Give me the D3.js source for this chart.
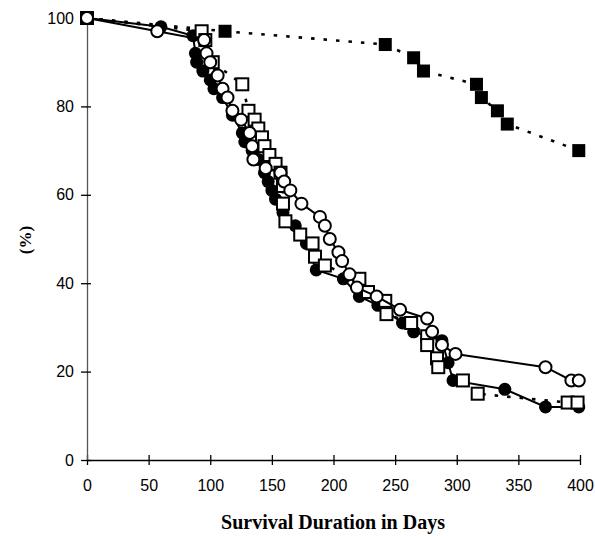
<!DOCTYPE html>
<html>
<head>
<meta charset="utf-8">
<script src="https://cdn.jsdelivr.net/npm/d3@7"></script>
<style>
  body { margin: 0; background: #fff; }
  .axisTitle { font-family: "Times New Roman", "Liberation Serif", serif; font-weight: bold; fill: #000; }
</style>
</head>
<body>
<svg id="chart" width="595" height="536"></svg>
<script>
const xTicks = [0, 50, 100, 150, 200, 250, 300, 350, 400]
const yTicks = [0, 20, 40, 60, 80, 100]

// [day, percent]
const filledSquares = [[0,100],[112,97],[242,94],[265,91],[273,88],[316,85],[320,82],[333,79],[341,76],[399,70]]

const filledCircles = [[0,100],[60,98],[86,96],[88,92],[89,90],[94,88],[100,86],[103,84],[110,82],[118,78],[126,74],[128,72],[134,70],[139,68],[144,65],[147,63],[150,61],[153,59],[159,56],[169,53],[178,49],[186,43],[208,41],[221,37],[236,35],[256,31],[265,29],[288,27],[293,22],[297,18],[339,16],[372,12],[399,12]]

const openSquares = [[0,100],[93,97],[96,95],[102,90],[126,85],[131,79],[136,77],[139,75],[142,73],[144,71],[148,69],[153,67],[157,65],[159,62],[159,58],[161,54],[173,51],[183,49],[185,46],[193,44],[221,41],[228,38],[242,36],[243,33],[263,31],[276,28],[276,26],[284,23],[285,21],[305,18],[317,15],[390,13],[398,13]]

const openCircles = [[0,100],[57,97],[95,95],[97,92],[100,90],[106,87],[110,84],[114,82],[118,79],[125,77],[132,74],[134,71],[135,68],[145,66],[157,65],[160,63],[165,61],[174,58],[189,55],[193,53],[197,50],[204,47],[207,45],[213,42],[219,39],[235,37],[254,34],[276,32],[280,29],[288,26],[299,24],[372,21],[393,18],[399,18]]

const svg = d3.select("#chart")

const xScale = d3.scaleLinear().domain([0, 400]).range([87, 580])
const yScale = d3.scaleLinear().domain([0, 100]).range([460, 18])

const styleTickText = sel => sel
  .attr("font-family", "Arial, 'Liberation Sans', sans-serif")
  .attr("font-size", 16)
  .attr("fill", "#000")

const xAxis = svg.append("g")
  .attr("transform", `translate(0, ${yScale(0)})`)
  .call(d3.axisBottom(xScale).tickValues(xTicks).tickSizeInner(5).tickSizeOuter(0).tickPadding(15))
xAxis.select(".domain").attr("stroke", "#000").attr("stroke-width", 1.3)
xAxis.selectAll(".tick line").attr("y1", -5).attr("stroke-width", 1.3)
xAxis.selectAll(".tick text").call(styleTickText)

const yAxis = svg.append("g")
  .attr("transform", `translate(${xScale(0)}, 0)`)
  .call(d3.axisLeft(yScale).tickValues(yTicks).tickSizeInner(5).tickSizeOuter(0).tickPadding(8))
yAxis.select(".domain").attr("stroke", "#555").attr("stroke-width", 1.3)
yAxis.selectAll(".tick line").attr("x1", 4).attr("x2", -6).attr("stroke-width", 1.3)
yAxis.selectAll(".tick text").call(styleTickText)

svg.append("text")
  .classed("axisTitle", true)
  .attr("x", 333)
  .attr("y", 529)
  .attr("text-anchor", "middle")
  .style("font-size", "20px")
  .text("Survival Duration in Days")

svg.append("text")
  .classed("axisTitle", true)
  .attr("transform", "translate(31, 240) rotate(-90)")
  .attr("text-anchor", "middle")
  .style("font-size", "17px")
  .text("(%)")

const line = d3.line()
  .x(d => xScale(d[0]))
  .y(d => yScale(d[1]))

const drawSeries = (data, dotted, marker, filled) => {
  const g = svg.append("g")
  g.append("path")
    .datum(data)
    .attr("d", line)
    .attr("fill", "none")
    .attr("stroke", "#000")
    .attr("stroke-width", dotted ? 2.6 : 2)
    .attr("stroke-dasharray", dotted ? "3.5,9" : null)

  if (marker == "square") {
    const s = filled ? 13 : 12
    g.selectAll("rect")
      .data(data)
      .enter()
      .append("rect")
      .attr("x", d => xScale(d[0]) - s / 2)
      .attr("y", d => yScale(d[1]) - s / 2)
      .attr("width", s)
      .attr("height", s)
      .attr("fill", filled ? "#000" : "#fff")
      .attr("stroke", "#000")
      .attr("stroke-width", filled ? 0 : 2)
  } else {
    g.selectAll("circle")
      .data(data)
      .enter()
      .append("circle")
      .attr("cx", d => xScale(d[0]))
      .attr("cy", d => yScale(d[1]))
      .attr("r", filled ? 6.5 : 6)
      .attr("fill", filled ? "#000" : "#fff")
      .attr("stroke", "#000")
      .attr("stroke-width", filled ? 0 : 2)
  }
}

drawSeries(filledSquares, true, "square", true)
drawSeries(filledCircles, false, "circle", true)
drawSeries(openSquares, true, "square", false)
drawSeries(openCircles, false, "circle", false)
</script>
</body>
</html>
